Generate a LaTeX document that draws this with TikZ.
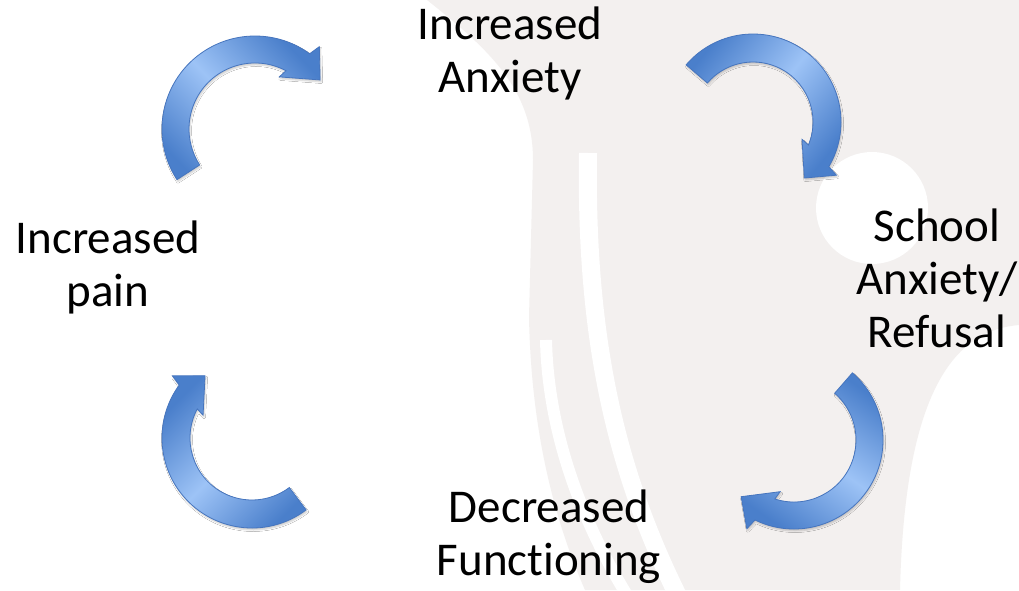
\documentclass[tikz,border=0pt]{standalone}
\usepackage{fontspec}
\setmainfont{Carlito}[Ligatures = NoCommon]
\usetikzlibrary{shadows.blur}
\definecolor{markgrey}{HTML}{F3F0EF}
\definecolor{arrowlight}{HTML}{9DC3F6}
\definecolor{arrowdark}{HTML}{4A7FCB}
\definecolor{arrowline}{HTML}{4675BE}
\tikzset{
  cyclelabel/.style = {align = center, font = \fontsize{47}{53}\selectfont},
  cyclearrow/.style = {draw = arrowline, line width = 0.8pt,
    top color = arrowdark, bottom color = arrowdark, middle color = arrowlight,
    blur shadow = {shadow xshift = 1pt, shadow yshift = -2pt,
      shadow blur radius = 1.5pt, shadow opacity = 20}}
}
% #1 centre, #2 tail angle, #3 sweep to head, #4/#5 outer/inner radius, #6 shading angle
\newcommand{\loopArrow}[6]{%
  \begin{scope}[shift = {#1}]
    \path [cyclearrow, shading angle = #6]
      (#2:#4pt) arc [start angle = #2, end angle = {#2-#3+2}, radius = #4pt]
      -- ({#2-#3}:{(#4pt+#5pt)/2+25pt})
      -- ({#2-#3-15}:{(#4pt+#5pt)/2+2pt})
      -- ({#2-#3+13}:{(#4pt+#5pt)/2-22pt})
      -- ({#2-#3+10}:#5pt) arc [start angle = {#2-#3+10}, end angle = #2, radius = #5pt]
      -- cycle;
  \end{scope}}

\begin{document}
\begin{tikzpicture}[x = 1pt, y = 1pt]
  \useasboundingbox [fill = white] (0, 0) rectangle (1019, 590);
  \fill [markgrey] (427, 590) -- (1019, 590) -- (1019, 265)
    .. controls (960, 260) and (905, 210) .. (900, 0) -- (585, 0)
    .. controls (550, 80) and (531, 170) .. (529, 273) -- (533, 430)
    .. controls (533, 500) and (490, 540) .. (427, 590) -- cycle;
  \draw [white, line width = 18pt] (588, 437) .. controls (585, 240) and (620, 110) .. (680, -10);
  \draw [white, line width = 12pt] (546, 250) .. controls (548, 160) and (580, 70) .. (630, -10);
  \fill [white] (872, 382) circle [radius = 56];

  \node [cyclelabel] (anxiety) at (510, 537) {Increased\\Anxiety};
  \node [cyclelabel] (school) at (937, 312) {School\\Anxiety/\\Refusal};
  \node [cyclelabel] (function) at (549, 53) {Decreased\\Functioning};
  \node [cyclelabel] (pain) at (108, 323) {Increased\\pain};

  \loopArrow{(255, 461)}{213}{161}{93}{66}{134}
  \loopArrow{(753, 468)}{139.5}{172}{88}{60}{51}
  \loopArrow{(794, 150)}{49}{167}{89}{62}{145}
  \loopArrow{(252, 152)}{307}{165}{90}{62}{45}
\end{tikzpicture}
\end{document}
